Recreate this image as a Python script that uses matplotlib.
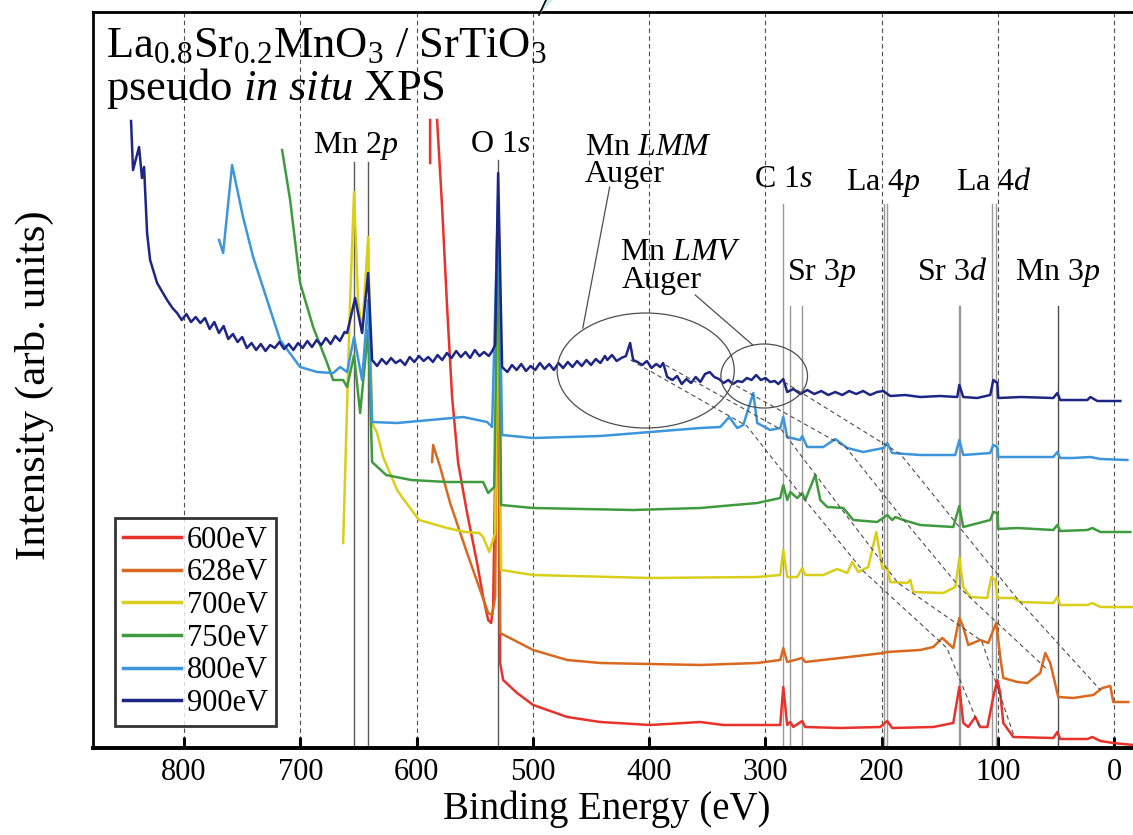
import numpy as np
import matplotlib
matplotlib.use("Agg")
import matplotlib.pyplot as plt
from matplotlib.patches import Ellipse, Polygon

plt.rcParams["font.family"] = ["Liberation Serif", "DejaVu Serif"]
plt.rcParams["mathtext.fontset"] = "custom"
plt.rcParams["mathtext.rm"] = "Liberation Serif"
plt.rcParams["mathtext.it"] = "Liberation Serif:italic"

# photon energies and colours of the six survey spectra
labels = ["600eV", "628eV", "700eV", "750eV", "800eV", "900eV"]
colors = ["#e8322a", "#d8691f", "#d9cf1b", "#3f9b3d", "#3d96dc", "#1e2685"]

# binding energy (eV) / intensity (arb. units)
e_600 = [588.4, 588.4, np.nan, 582.4, 578.1, 573.8, 569.5, 564.3, 556.6, 548.0, 542.8, 538.5, 535.9,
         534.2, 529.9, 528.2, 525.6, 513.6, 499.8, 470.5, 442.2, 399.1, 356.1, 336.3, 287.3, 284.7,
         281.3, 278.7, 276.1, 268.4, 265.8, 235.7, 201.3, 195.3, 191.0, 155.7, 138.5, 133.3, 129.9,
         125.6, 119.6, 115.3, 109.2, 104.1, 100.6, 98.1, 95.5, 86.9, 52.5, 49.0, 46.5, 23.2, 18.9,
         12.0, 0.9, -16.3]
i_600 = [585, 628, np.nan, 628, 541, 441, 351, 285, 235, 185, 151, 128, 125,
         141, 470, 85, 68, 55, 43, 31, 26, 23, 26, 23, 23, 61,
         23, 26, 21, 27, 21, 20, 21, 27, 20, 21, 25, 61, 25,
         21, 31, 21, 21, 51, 68, 55, 25, 11, 10, 16, 9, 9, 11,
         7, 5, 3]

e_628 = [586.7, 585.8, 579.8, 571.2, 556.6, 545.4, 538.5, 535.1, 532.5, 529.9, 528.2, 499.8, 470.5,
         442.2, 356.1, 307.1, 287.3, 284.7, 281.3, 268.4, 265.8, 235.7, 198.7, 195.3, 166.9, 155.7,
         148.0, 138.5, 133.3, 129.9, 125.6, 115.3, 108.4, 104.1, 101.5, 98.1, 95.5, 83.4, 74.8, 63.7,
         59.4, 55.1, 48.2, 35.3, 18.1, 10.3, 3.4, 0.9, -12.0]
i_628 = [286, 303, 281, 245, 195, 158, 135, 133, 151, 480, 115, 98, 88,
         85, 83, 85, 88, 100, 86, 90, 86, 90, 95, 96, 98, 101,
         110, 100, 130, 121, 103, 108, 105, 118, 125, 91, 70, 66, 65, 75,
         95, 85, 51, 50, 53, 60, 62, 46, 46]

e_700 = [663.2, 657.2, 653.8, 650.4, 646.9, 641.7, 638.3, 634.0, 628.8, 616.8, 610.8, 597.9, 573.8,
         558.3, 546.2, 542.8, 537.6, 532.5, 529.9, 527.3, 499.8, 399.1, 307.1, 287.3, 284.7, 281.3,
         272.7, 268.4, 265.8, 250.3, 238.3, 229.7, 225.4, 220.2, 211.6, 204.7, 199.6, 195.3, 192.7,
         178.1, 175.5, 172.9, 147.1, 136.8, 133.3, 129.9, 123.9, 109.2, 105.8, 102.4, 100.6, 86.9,
         80.9, 52.5, 49.0, 46.5, 23.2, 18.9, 12.0, -16.3]
i_700 = [205, 448, 556, 448, 416, 511, 325, 315, 291, 258, 248, 228, 220,
         216, 215, 211, 196, 215, 500, 178, 173, 170, 171, 173, 198, 171,
         171, 180, 173, 173, 179, 175, 186, 176, 181, 216, 180, 180, 166,
         165, 168, 156, 155, 161, 190, 161, 151, 150, 171, 168, 150, 150,
         146, 145, 151, 143, 143, 145, 141, 141]

e_750 = [715.7, 708.8, 700.2, 689.0, 677.0, 671.8, 663.2, 659.8, 653.8, 648.6, 641.7, 638.3, 626.2,
         604.7, 573.8, 542.8, 538.5, 533.3, 529.9, 527.3, 499.8, 413.8, 356.1, 307.1, 287.3, 284.7,
         281.3, 278.7, 272.7, 268.4, 265.8, 257.2, 252.9, 246.9, 233.1, 224.5, 203.9, 195.3, 191.0,
         188.4, 181.5, 166.9, 138.5, 133.3, 129.9, 106.7, 104.1, 100.6, 99.8, 83.4, 52.5, 49.0, 46.5,
         23.2, 18.9, 12.0, -13.8]
i_750 = [598, 548, 465, 421, 385, 368, 368, 361, 393, 335, 418, 286, 273,
         268, 266, 266, 255, 261, 520, 243, 240, 238, 240, 245, 250, 263,
         248, 256, 250, 255, 248, 273, 248, 241, 240, 228, 226, 233, 228,
         231, 228, 223, 221, 242, 221, 228, 236, 235, 219, 220, 218, 223, 217,
         218, 220, 216, 216]

e_800 = [769.9, 766.4, 758.7, 749.3, 740.6, 728.6, 717.4, 700.2, 685.6, 671.8, 665.8, 659.8, 653.8,
         646.9, 641.7, 638.3, 616.8, 560.0, 539.4, 535.1, 529.9, 526.5, 499.8, 442.2, 399.1, 356.1,
         338.9, 331.2, 324.3, 319.1, 310.5, 307.1, 295.9, 287.3, 284.7, 281.3, 270.1, 268.4, 264.1,
         250.3, 240.0, 229.7, 215.9, 198.7, 195.3, 191.0, 166.9, 136.8, 133.3, 129.9, 106.7, 104.1,
         100.6, 99.8, 52.5, 49.0, 46.5, 35.3, 20.6, 12.0, -11.2]
i_800 = [508, 495, 583, 531, 491, 448, 408, 381, 376, 375, 381, 376, 411,
         368, 448, 326, 325, 331, 326, 321, 550, 313, 310, 312, 316, 320,
         321, 331, 320, 323, 355, 325, 318, 320, 331, 311, 308, 312, 301,
         301, 309, 300, 296, 300, 305, 295, 293, 293, 308, 293, 295, 303,
         301, 291, 291, 296, 290, 290, 291, 289, 288]

e_900 = [845.6, 843.9, 838.7, 836.2, 834.4, 831.8, 829.2, 823.2, 814.6, 810.0, 806.0, 802.0, 798.0,
         794.0, 790.0, 786.0, 782.0, 778.0, 774.0, 770.0, 766.0, 762.0, 758.0, 754.0, 750.0, 746.0,
         742.0, 738.0, 734.0, 730.0, 726.0, 722.0, 718.0, 714.0, 710.0, 706.0, 702.0, 698.0, 694.0,
         690.0, 686.0, 682.0, 678.0, 674.0, 670.0, 666.0, 662.0, 659.8, 652.9, 646.9, 641.7, 638.3,
         634.0, 630.0, 626.0, 622.0, 618.0, 614.0, 610.0, 606.0, 602.0, 598.0, 594.0, 590.0, 586.0,
         582.0, 578.0, 574.0, 570.0, 566.0, 562.0, 558.0, 554.0, 550.0, 546.0, 542.0, 538.0, 535.0,
         532.5, 529.9, 526.5, 522.0, 518.0, 514.0, 510.0, 506.0, 502.0, 498.0, 494.0, 490.0, 486.0,
         482.0, 478.0, 474.0, 470.0, 466.0, 462.0, 458.0, 454.0, 450.0, 446.0, 442.0, 438.0, 436.0,
         432.0, 428.0, 424.0, 420.0, 416.4, 413.8, 410.0, 406.0, 402.0, 398.0, 394.0, 390.5, 388.0,
         384.5, 380.0, 376.0, 372.0, 368.0, 364.0, 360.0, 356.0, 352.0, 348.0, 344.0, 340.0, 336.0,
         332.0, 328.0, 324.0, 320.0, 316.0, 312.0, 308.0, 304.0, 300.0, 296.0, 292.0, 289.0, 284.7,
         281.3, 276.0, 270.0, 264.0, 258.0, 252.0, 246.0, 240.0, 234.0, 228.0, 222.0, 216.0, 210.0,
         204.0, 198.7, 192.7, 180.0, 166.9, 150.0, 135.1, 133.3, 129.9, 118.0, 106.7, 104.1, 100.6,
         99.8, 80.0, 52.5, 49.0, 46.5, 23.2, 20.6, 14.6, -5.2]
i_900 = [627, 578, 601, 570, 581, 515, 488, 465, 448, 440, 435, 428, 434,
         426, 431, 425, 430, 419, 426, 415, 422, 409, 414, 406, 411, 400,
         405, 398, 404, 397, 403, 400, 406, 399, 404, 398, 405, 400, 407,
         401, 408, 403, 410, 404, 412, 407, 416, 415, 450, 415, 475, 388,
         382, 389, 384, 390, 385, 388, 383, 391, 386, 392, 387, 391, 386,
         393, 388, 395, 390, 397, 391, 396, 390, 398, 392, 396, 392, 397,
         403, 575, 381, 376, 383, 378, 384, 377, 382, 378, 385, 379, 384,
         378, 385, 380, 386, 381, 387, 382, 388, 383, 389, 385, 392, 388,
         393, 387, 390, 392, 405, 388, 386, 383, 387, 380, 384, 381, 385,
         371, 368, 372, 364, 369, 365, 371, 366, 374, 376, 371, 369, 365,
         368, 364, 367, 366, 370, 368, 373, 368, 370, 366, 367, 364, 369,
         356, 359, 354, 358, 354, 357, 353, 356, 353, 357, 354, 357, 353,
         356, 357, 352, 353, 351, 352, 351, 363, 351, 350, 353, 368, 365,
         350, 351, 350, 355, 348, 348, 351, 347, 347]

spectra_e = [e_600, e_628, e_700, e_750, e_800, e_900]
spectra_i = [i_600, i_628, i_700, i_750, i_800, i_900]

# core-level markers: (energies, top of marker line, colour)
marker_e = [[653.8, 641.7], [529.9], [285.0], [278.7, 268.6], [198.0, 195.6],
            [133.9, 132.3], [105.2, 101.8], [48.7]]
marker_top = [586, 588, 544, 442, 544, 442, 544, 442]
marker_col = ["0.35", "0.35", "0.6", "0.6", "0.6", "0.6", "0.6", "0.3"]

# peak labels: text, binding energy, intensity (baseline)
peak_text = ["Mn 2$\\it{p}$", "O 1$\\it{s}$", "C 1$\\it{s}$", "La 4$\\it{p}$", "La 4$\\it{d}$",
             "Sr 3$\\it{p}$", "Sr 3$\\it{d}$", "Mn 3$\\it{p}$"]
peak_e = [689.0, 554.0, 309.7, 230.5, 135.9, 281.3, 169.5, 85.2]
peak_i = [595, 596, 561, 558, 558, 468, 468, 468]

# Auger guide lines: same kinetic energy traced through the spectra (900 -> 600 eV)
auger_e = [[416, 316, 266, 216, 144, 116],
           [386, 286, 236, 186, 114, 86],
           [331, 231, 181, 131, 59],
           [284, 184, 134, 84, 12]]
auger_i = [[388, 322, 248, 177, 100, 21],
           [383, 318, 241, 165, 107, 11],
           [366, 301, 228, 158, 80],
           [366, 294, 222, 150, 58]]

fig = plt.figure(figsize=(11.33, 8.35), dpi=100)
ax = fig.add_axes([0.0821, 0.1042, 1.01 - 0.0821, 0.8814])

for e, i, c, lab in zip(spectra_e, spectra_i, colors, labels):
    ax.plot(e, i, color=c, lw=1.8, label=lab, zorder=3)

for es, top, c in zip(marker_e, marker_top, marker_col):
    for e in es:
        ax.plot([e, e], [0, top], color=c, lw=1.0, zorder=2)

for t, e, i in zip(peak_text, peak_e, peak_i):
    ax.text(e, i, t, fontsize=23, ha="left", va="baseline")

ax.text(455.0, 593, "Mn $\\it{LMM}$", fontsize=23, ha="left", va="baseline")
ax.text(455.0, 566, "Auger", fontsize=23, ha="left", va="baseline")
ax.text(424.9, 488, "Mn $\\it{LMV}$", fontsize=23, ha="left", va="baseline")
ax.text(423.2, 460, "Auger", fontsize=23, ha="left", va="baseline")

ax.add_patch(Ellipse((403.0, 377.5), 152.3, 115, fill=False, ec="0.3", lw=0.9, zorder=4))
ax.add_patch(Ellipse((301.1, 372.0), 74.5, 64, fill=False, ec="0.3", lw=0.9, zorder=4))
ax.plot([434.0, 457.1], [561, 420], color="0.3", lw=0.9)
ax.plot([360.4, 310.9], [453, 403], color="0.3", lw=0.9)

for e, i in zip(auger_e, auger_i):
    ax.plot(e, i, color="0.3", lw=0.8, ls=(0, (4, 3)), zorder=4)

for x in range(0, 900, 100):
    ax.axvline(x, color="0.3", lw=0.8, ls=(0, (4, 3)), zorder=1)

ax.text(0.012, 0.939, "La$_{0.8}$Sr$_{0.2}$MnO$_3$ / SrTiO$_3$", transform=ax.transAxes,
        fontsize=32, ha="left", va="baseline")
ax.text(0.012, 0.880, "pseudo $\\it{in\\ situ}$ XPS", transform=ax.transAxes,
        fontsize=32, ha="left", va="baseline")

ax.set_xlim(878.3, -25.8)
ax.set_ylim(0, 736)
ax.set_xticks(range(0, 900, 100))
ax.set_yticks([])
ax.tick_params(axis="x", direction="in", length=8, width=2.2, labelsize=22, pad=7)
for s in ax.spines.values():
    s.set_linewidth(2)
ax.spines["bottom"].set_linewidth(2.8)
ax.set_xlabel("Binding Energy (eV)", fontsize=28)
ax.xaxis.set_label_coords(0.489, -0.058)
ax.set_ylabel("Intensity (arb. units)", fontsize=31)
ax.yaxis.set_label_coords(-0.037, 0.493)

leg = ax.legend(loc="upper left", bbox_to_anchor=(115 / 1133, 1 - 518 / 835),
                bbox_transform=fig.transFigure, fontsize=22, frameon=True, fancybox=False,
                handlelength=1.9, handletextpad=0.2, labelspacing=0.12, borderpad=0.25,
                borderaxespad=0)
leg.get_frame().set_edgecolor("black")
leg.get_frame().set_linewidth(2)
for ln in leg.get_lines():
    ln.set_linewidth(2.5)

# small callout wedge above the frame
fig.patches.append(Polygon([(539 / 1133, 1 - 15 / 835), (545 / 1133, 1.0), (553 / 1133, 1.0)],
                           closed=True, transform=fig.transFigure, fc="#c9ecec", ec="none"))
fig.lines.append(plt.Line2D([539 / 1133, 546 / 1133], [1 - 15 / 835, 1.0],
                            transform=fig.transFigure, color="black", lw=1.2))

fig.savefig("out.png", dpi=100)
